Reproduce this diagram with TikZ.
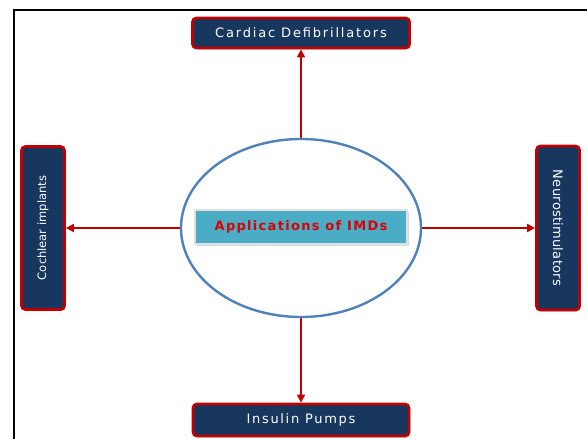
\documentclass[tikz,border=0pt]{standalone}
\usepackage{fontspec}
\setmainfont{DejaVu Sans}
\usetikzlibrary{shapes.geometric,shadows,arrows.meta}

\definecolor{navybox}{HTML}{17375E}
\definecolor{darkred}{HTML}{C00000}
\definecolor{titlered}{HTML}{D80000}
\definecolor{tealbox}{HTML}{4BACC6}
\definecolor{ringblue}{HTML}{4F81BD}

% letter spaced text for the boxes
\newcommand{\spaced}[2]{{\addfontfeature{LetterSpace=#1}#2}}

\begin{document}
\begin{tikzpicture}[x=1pt,y=-1pt, % one unit is one pixel of the picture, y down
    device/.style={draw=darkred, line width=2.8pt, fill=navybox, rounded corners=4pt,
        text=white, inner sep=0pt, font=\fontsize{13}{15}\selectfont,
        drop shadow={shadow xshift=1.5pt, shadow yshift=-1.5pt, opacity=.35}},
    hub/.style={ellipse, draw=ringblue, line width=2.4pt, fill=white,
        minimum width=240, minimum height=178},
    titlebox/.style={fill=tealbox, draw=black!12, line width=2pt, inner sep=0pt,
        minimum width=212, minimum height=34, text=titlered,
        font=\bfseries\fontsize{13}{15}\selectfont,
        drop shadow={shadow xshift=2pt, shadow yshift=-2pt, opacity=.3}},
    link/.style={draw=darkred, line width=2pt, -{Triangle[length=8pt,width=8pt]}}
]
    % Picture size
    \useasboundingbox (0,0) rectangle (587,439);

    % Frame, only the top and left edges show
    \draw[line width=2pt] (587,10) -- (14,10) -- (14,439);

    % Centre of the hub
    \coordinate (C) at (301,228);

    % Hub ellipse and its title
    \node[hub] (imd) at (C) {};
    \node[titlebox] (title) at (301,227) {\spaced{10}{Applications of IMDs}};

    % Device boxes round the hub
    \node[device, minimum width=217, minimum height=30] (cardiac) at (301,33) {\spaced{14}{Cardiac Defibrillators}};
    \node[device, minimum width=216, minimum height=32] (insulin) at (301,420) {\spaced{13}{Insulin Pumps}};
    \node[device, rotate=90, minimum width=163, minimum height=43,
        font=\fontsize{11.5}{14}\selectfont] (cochlear) at (43,228) {Cochlear implants};
    \node[device, rotate=-90, minimum width=164, minimum height=43] (neuro) at (558,228) {\spaced{2}{Neurostimulators}};

    % Arrows from the hub
    \draw[link] (imd.north) -- (cardiac.south);
    \draw[link] (imd.south) -- (insulin.north);
    \draw[link] (imd.west) -- (cochlear.south);
    \draw[link] (imd.east) -- (neuro.south);
\end{tikzpicture}
\end{document}
